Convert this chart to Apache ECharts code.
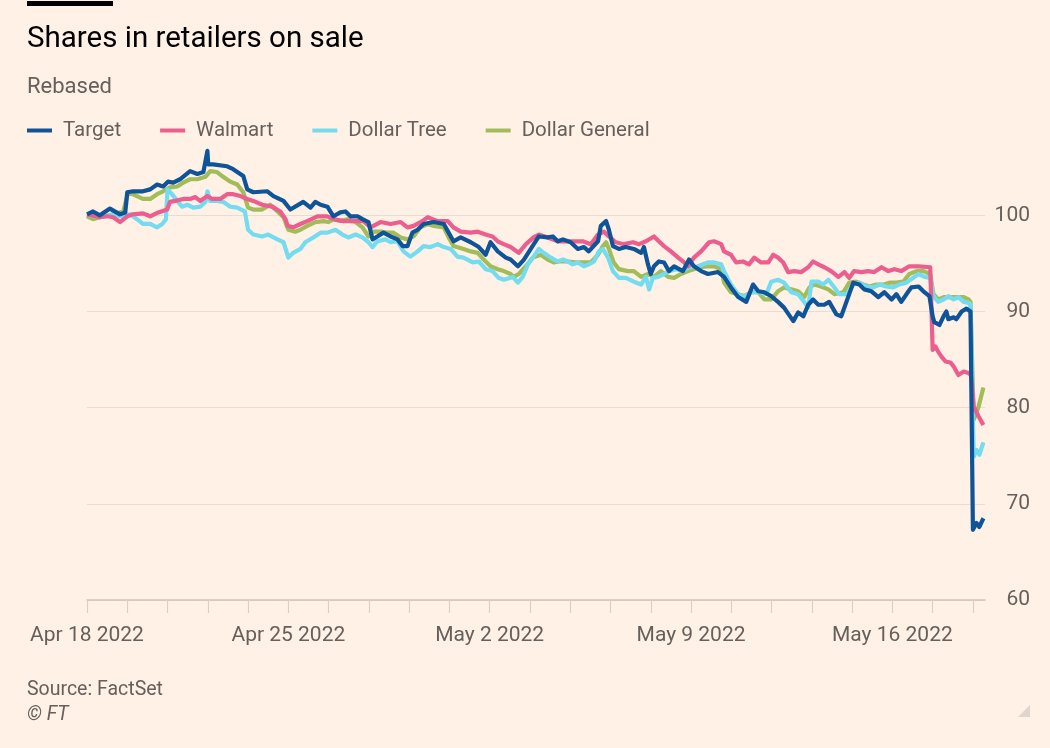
<!DOCTYPE html>
<html>
<head>
<meta charset="utf-8">
<script src="https://cdn.jsdelivr.net/npm/echarts@6/dist/echarts.min.js"></script>
<style>
html,body{margin:0;padding:0;background:#FFF1E5;}
#chart{width:1050px;height:748px;}
</style>
</head>
<body>
<div id="chart"></div>
<script>
// x = trading days since Apr 18 2022 open (0 = Apr 18, 5 = Apr 25, ...), y = rebased price
const seriesNames = ['Target', 'Walmart', 'Dollar Tree', 'Dollar General'];
const xTickPos = [0, 5, 10, 15, 20];
const xTickText = ['Apr 18 2022', 'Apr 25 2022', 'May 2 2022', 'May 9 2022', 'May 16 2022'];
const yTicks = [60, 70, 80, 90, 100];

const targetData = [
[0,100.1],[0.15,100.4],[0.32,100.0],[0.57,100.7],[0.82,100.1],[0.95,100.3],[1.0,102.4],[1.14,102.5],[1.39,102.5],[1.57,102.7],[1.74,103.2],[1.89,103.0],[2.01,103.5],[2.14,103.4],[2.31,103.75],[2.56,104.6],[2.74,104.3],[2.89,104.5],[2.99,106.7],[3.01,105.3],[3.13,105.3],[3.48,105.1],[3.63,104.8],[3.88,104.1],[3.98,102.7],[4.13,102.4],[4.48,102.5],[4.63,102.0],[4.88,101.5],[5.05,100.6],
[5.37,101.4],[5.55,100.8],[5.67,101.4],[5.80,101.1],[5.97,100.9],[6.12,99.9],[6.29,100.3],[6.42,100.4],[6.54,99.9],[6.72,99.9],[6.84,99.6],[6.99,99.3],[7.09,97.5],[7.21,97.8],[7.36,98.2],[7.54,97.8],[7.71,97.5],[7.84,96.8],[7.96,96.8],[8.08,98.2],[8.21,98.5],[8.36,99.1],[8.61,99.3],[8.86,99.1],[8.98,98.2],[9.10,97.3],[9.28,97.7],[9.53,97.2],[9.73,96.7],[9.90,95.9],
[10.02,97.2],[10.20,96.25],[10.40,95.6],[10.52,95.4],[10.70,94.7],[10.85,95.4],[11.02,96.5],[11.22,97.8],[11.44,97.7],[11.57,97.8],[11.69,97.3],[11.82,97.5],[12.01,97.2],[12.19,96.5],[12.34,96.7],[12.46,96.25],[12.69,97.3],[12.76,98.9],[12.89,99.4],[12.96,98.5],[13.06,96.8],[13.21,96.5],[13.38,96.7],[13.58,96.5],[13.76,96.1],[13.83,96.7],[13.93,94.9],[14.0,93.9],[14.08,94.7],[14.20,95.2],[14.33,95.1],[14.45,94.2],[14.58,94.7],[14.80,94.2],[14.95,95.4],
[15.07,94.7],[15.25,94.2],[15.42,93.9],[15.67,94.1],[15.82,93.6],[15.99,92.5],[16.17,91.5],[16.37,91.0],[16.54,92.8],[16.67,92.1],[16.82,92.0],[16.99,91.6],[17.16,91.0],[17.31,90.4],[17.54,89.0],[17.66,89.9],[17.79,89.5],[17.91,90.7],[18.03,91.25],[18.16,90.7],[18.31,90.7],[18.43,91.0],[18.61,89.7],[18.73,89.5],[18.91,91.6],[19.03,93.0],[19.18,92.8],[19.30,92.3],[19.48,92.1],[19.65,91.5],[19.80,92.0],[19.98,91.25],
[20.10,91.8],[20.22,91.0],[20.40,92.1],[20.47,92.5],[20.65,92.6],[20.77,92.1],[20.92,91.6],[21.0,89.5],[21.04,88.9],[21.17,88.6],[21.27,89.5],[21.34,90.0],[21.39,89.2],[21.52,89.4],[21.59,89.2],[21.72,90.0],[21.84,90.3],[21.94,90.0],[22.0,67.3],[22.09,68.0],[22.16,67.6],[22.26,68.5]
];

const walmartData = [
[0,100.1],[0.32,99.8],[0.50,99.9],[0.65,99.8],[0.82,99.3],[1.0,99.9],[1.14,100.1],[1.39,100.2],[1.57,99.9],[1.77,100.3],[1.99,100.6],[2.06,101.4],[2.19,101.5],[2.39,101.7],[2.56,101.7],[2.69,101.9],[2.81,101.5],[2.99,102.0],[3.11,101.7],[3.31,101.7],[3.48,102.2],[3.63,102.2],[3.81,102.0],[3.98,101.7],[4.13,101.5],[4.35,101.1],[4.60,100.9],[4.80,100.4],[4.93,99.6],[4.98,98.9],
[5.12,98.75],[5.30,99.1],[5.47,99.4],[5.72,99.9],[5.97,99.9],[6.12,99.6],[6.37,99.4],[6.62,99.4],[6.87,99.4],[7.04,98.75],[7.29,99.3],[7.54,99.1],[7.79,99.3],[7.96,98.75],[8.11,98.9],[8.33,99.4],[8.46,99.8],[8.71,99.4],[8.96,99.4],[9.10,98.75],[9.28,98.3],[9.53,98.2],[9.70,98.3],[9.90,98.0],
[10.07,97.8],[10.20,97.3],[10.35,97.0],[10.52,96.7],[10.72,96.1],[10.90,97.0],[11.09,97.7],[11.22,98.0],[11.44,97.7],[11.69,97.3],[11.94,97.3],[12.31,97.3],[12.51,97.0],[12.69,98.0],[12.84,98.3],[12.96,97.8],[13.13,97.2],[13.33,97.0],[13.56,97.2],[13.71,97.0],[13.88,97.3],[14.08,97.8],[14.20,97.3],[14.33,96.8],[14.50,96.25],[14.68,95.6],[14.83,95.1],[14.93,94.7],
[15.07,95.6],[15.25,96.25],[15.45,97.2],[15.57,97.3],[15.75,97.0],[15.82,96.25],[15.99,95.9],[16.12,95.1],[16.29,95.2],[16.44,94.9],[16.57,95.6],[16.74,95.1],[16.92,95.1],[17.04,95.9],[17.16,95.6],[17.29,95.1],[17.41,94.1],[17.56,94.2],[17.74,94.1],[17.91,94.6],[18.03,95.2],[18.16,94.9],[18.31,94.6],[18.48,94.2],[18.66,93.6],[18.81,94.1],[18.93,93.5],[19.05,94.2],[19.23,94.1],[19.40,94.2],[19.55,94.1],[19.73,94.6],[19.90,94.2],
[20.05,94.4],[20.22,94.2],[20.42,94.7],[20.65,94.7],[20.94,94.6],[21.0,86.0],[21.07,86.35],[21.14,85.8],[21.22,85.3],[21.32,84.8],[21.44,84.7],[21.52,84.3],[21.64,83.4],[21.77,83.75],[21.89,83.6],[21.95,83.4],[22.02,80.1],[22.14,79.1],[22.26,78.2]
];

const dollarTreeData = [
[0,100.1],[0.32,99.8],[0.65,100.1],[0.82,99.9],[1.07,100.1],[1.24,99.6],[1.39,99.1],[1.57,99.1],[1.74,98.75],[1.87,99.1],[1.96,99.6],[2.0,102.7],[2.11,102.2],[2.24,101.5],[2.36,100.9],[2.49,101.1],[2.64,100.8],[2.81,100.9],[2.94,101.4],[2.99,102.5],[3.06,101.5],[3.23,101.5],[3.38,101.4],[3.56,100.9],[3.73,100.8],[3.92,100.4],[4.0,98.5],[4.13,98.0],[4.35,97.8],[4.50,98.0],[4.73,97.5],[4.88,97.2],
[5.0,95.6],[5.12,96.1],[5.30,96.5],[5.42,97.2],[5.62,97.7],[5.80,98.2],[5.97,98.2],[6.17,98.5],[6.34,98.0],[6.49,97.7],[6.67,98.0],[6.84,97.7],[6.99,97.2],[7.09,96.7],[7.21,97.3],[7.41,97.5],[7.54,97.2],[7.71,97.3],[7.86,96.25],[8.03,95.7],[8.21,96.25],[8.36,96.8],[8.53,96.7],[8.71,97.0],[8.86,96.7],[9.03,96.5],[9.20,95.7],[9.35,95.6],[9.58,95.1],[9.73,95.2],[9.90,94.4],
[10.07,94.2],[10.22,93.5],[10.35,93.3],[10.52,93.5],[10.57,93.6],[10.70,93.0],[10.82,93.6],[10.95,94.9],[11.09,95.7],[11.22,96.5],[11.34,96.1],[11.52,95.6],[11.69,95.2],[11.82,95.4],[11.94,95.2],[12.06,94.9],[12.19,95.1],[12.34,94.7],[12.46,94.9],[12.59,95.2],[12.71,96.25],[12.81,96.5],[12.94,95.6],[13.06,94.2],[13.21,93.5],[13.38,93.5],[13.58,93.1],[13.76,92.8],[13.88,93.6],[13.96,92.3],[14.05,93.5],[14.18,93.6],[14.33,93.9],[14.45,94.2],[14.63,94.4],[14.80,94.2],[14.95,94.6],
[15.17,94.7],[15.42,95.1],[15.57,95.1],[15.75,94.9],[15.82,94.2],[15.99,92.8],[16.17,91.8],[16.32,91.5],[16.49,92.0],[16.69,92.0],[16.87,91.8],[16.99,93.1],[17.16,93.3],[17.31,93.0],[17.49,92.0],[17.66,91.8],[17.81,91.0],[17.91,90.4],[17.99,93.1],[18.16,93.1],[18.28,92.8],[18.41,93.3],[18.56,92.5],[18.68,91.8],[18.86,91.8],[19.03,92.8],[19.18,93.0],[19.35,92.6],[19.53,92.5],[19.68,92.8],[19.85,92.6],
[20.02,92.5],[20.17,92.8],[20.35,93.0],[20.52,93.5],[20.65,93.9],[20.80,93.6],[20.94,93.5],[21.02,91.6],[21.14,91.0],[21.27,91.25],[21.39,91.6],[21.52,91.25],[21.64,91.5],[21.77,91.0],[21.89,90.9],[21.94,90.7],[22.02,74.9],[22.09,75.6],[22.16,75.1],[22.26,76.4]
];

const dollarGeneralData = [
[0,99.9],[0.15,99.6],[0.32,99.8],[0.65,100.1],[0.90,100.4],[1.02,102.4],[1.24,102.0],[1.39,101.7],[1.57,101.7],[1.74,102.2],[1.89,102.5],[2.06,102.9],[2.24,103.0],[2.39,103.4],[2.56,103.75],[2.74,103.75],[2.94,104.0],[3.06,104.6],[3.23,104.5],[3.38,104.0],[3.56,103.5],[3.73,103.2],[3.88,102.4],[4.0,100.8],[4.13,100.6],[4.35,100.6],[4.55,101.1],[4.73,100.4],[4.88,99.8],
[5.0,98.5],[5.17,98.3],[5.30,98.5],[5.47,98.9],[5.67,99.3],[5.87,99.4],[5.99,99.3],[6.12,99.6],[6.29,99.4],[6.47,99.6],[6.67,99.3],[6.84,98.75],[6.99,97.8],[7.11,98.3],[7.29,98.3],[7.46,98.2],[7.61,98.2],[7.79,97.7],[7.96,97.5],[8.11,97.8],[8.28,98.75],[8.46,99.1],[8.61,98.9],[8.86,98.75],[8.98,97.7],[9.10,96.8],[9.35,96.5],[9.53,96.25],[9.70,96.1],[9.85,95.4],
[10.02,94.7],[10.20,94.4],[10.35,94.2],[10.52,93.9],[10.60,93.6],[10.72,93.9],[10.90,94.7],[11.07,95.6],[11.27,95.9],[11.44,95.4],[11.59,95.1],[11.72,95.2],[11.94,95.2],[12.14,95.1],[12.51,95.1],[12.69,95.9],[12.81,96.8],[12.89,97.2],[12.96,96.5],[13.08,95.1],[13.21,94.4],[13.43,94.2],[13.58,94.2],[13.76,93.6],[13.93,93.9],[14.08,93.6],[14.25,94.2],[14.43,93.6],[14.58,93.5],[14.75,93.9],[14.93,94.2],
[15.07,94.4],[15.25,94.6],[15.42,94.7],[15.57,94.7],[15.75,94.4],[15.82,93.0],[15.99,92.0],[16.17,91.8],[16.32,91.6],[16.49,92.0],[16.67,92.0],[16.82,91.25],[16.99,91.25],[17.16,92.1],[17.31,92.5],[17.49,92.3],[17.66,92.1],[17.81,91.5],[17.94,92.5],[18.06,92.8],[18.23,92.6],[18.41,92.3],[18.56,91.8],[18.78,92.0],[18.93,93.0],[19.10,93.1],[19.28,92.8],[19.43,92.6],[19.60,92.8],[19.78,92.8],[19.93,93.0],
[20.10,93.0],[20.27,93.1],[20.42,93.9],[20.60,94.2],[20.77,94.2],[20.94,93.9],[21.02,91.8],[21.14,91.25],[21.29,91.5],[21.47,91.5],[21.64,91.5],[21.77,91.5],[21.89,91.25],[21.94,91.0],[22.02,78.75],[22.14,80.1],[22.26,82.1]
];

const colors = {
  'Target': '#0F5499',
  'Walmart': '#EB5E8D',
  'Dollar Tree': '#74DCF0',
  'Dollar General': '#A2BC5A'
};

const FONT = 'Roboto, "Noto Sans", sans-serif';
const chart = echarts.init(document.getElementById('chart'), null, {renderer: 'canvas'});

function lineSeries(name, data, z) {
  return {
    name: name, type: 'line', data: data, z: z,
    showSymbol: false, symbol: 'none', smooth: false,
    lineStyle: {color: colors[name], width: 4.2, join: 'round'},
    itemStyle: {color: colors[name]},
    emphasis: {disabled: true}, animation: false
  };
}

const gridColor = '#E9DCD1';
chart.setOption({
  backgroundColor: '#FFF1E5',
  animation: false,
  textStyle: {fontFamily: FONT},
  grid: {left: 87, right: 65, top: 148, bottom: 148, containLabel: false},
  legend: {
    data: seriesNames, left: 22, top: 115, icon: 'rect', itemWidth: 25, itemHeight: 4,
    itemGap: 39, selectedMode: false,
    textStyle: {fontSize: 20.5, color: '#66605C', fontFamily: FONT, padding: [0, 0, 0, 6]}
  },
  xAxis: {
    type: 'value', min: 0, max: 22.3, interval: 1,
    axisLine: {show: true, lineStyle: {color: '#CEC3BA', width: 1.5}},
    axisTick: {show: true, length: 13, lineStyle: {color: '#DCD0C6', width: 1.2}},
    splitLine: {show: false},
    axisLabel: {
      interval: 0, margin: 25, fontSize: 21, color: '#66605C', fontFamily: FONT,
      showMaxLabel: false,
      formatter: function (v) {
        const i = xTickPos.indexOf(Math.round(v * 100) / 100);
        return i >= 0 ? xTickText[i] : '';
      }
    }
  },
  yAxis: {
    type: 'value', position: 'right', min: 60, max: 107, interval: 10,
    axisLine: {show: false}, axisTick: {show: false},
    splitLine: {show: true, lineStyle: {color: [gridColor, gridColor, gridColor, gridColor, gridColor, 'rgba(0,0,0,0)'], width: 1}},
    axisLabel: {
      align: 'right', margin: 45, fontSize: 21, color: '#66605C', fontFamily: FONT,
      showMaxLabel: false,
      formatter: function (v) { return yTicks.indexOf(v) >= 0 ? String(v) : ''; }
    }
  },
  series: [
    lineSeries('Dollar General', dollarGeneralData, 2),
    lineSeries('Dollar Tree', dollarTreeData, 3),
    lineSeries('Walmart', walmartData, 4),
    lineSeries('Target', targetData, 5)
  ],
  graphic: [
    {type: 'rect', left: 27, top: 1, shape: {width: 86, height: 5}, style: {fill: '#000000'}},
    {type: 'text', left: 27, top: 25, style: {text: 'Shares in retailers on sale', fontSize: 29.5, fill: '#000000', fontFamily: FONT}},
    {type: 'text', left: 27, top: 76, style: {text: 'Rebased', fontSize: 22, fill: '#66605C', fontFamily: FONT}},
    {type: 'text', left: 27, top: 680, style: {text: 'Source: FactSet', fontSize: 19.5, fill: '#66605C', fontFamily: FONT}},
    {type: 'text', left: 27, top: 705, style: {text: '\u00A9 FT', fontSize: 19.5, fontStyle: 'italic', fill: '#66605C', fontFamily: FONT}},
    {type: 'polygon', shape: {points: [[1030, 705], [1030, 717], [1018, 717]]}, style: {fill: '#DDD5CE'}}
  ]
});
</script>
</body>
</html>
